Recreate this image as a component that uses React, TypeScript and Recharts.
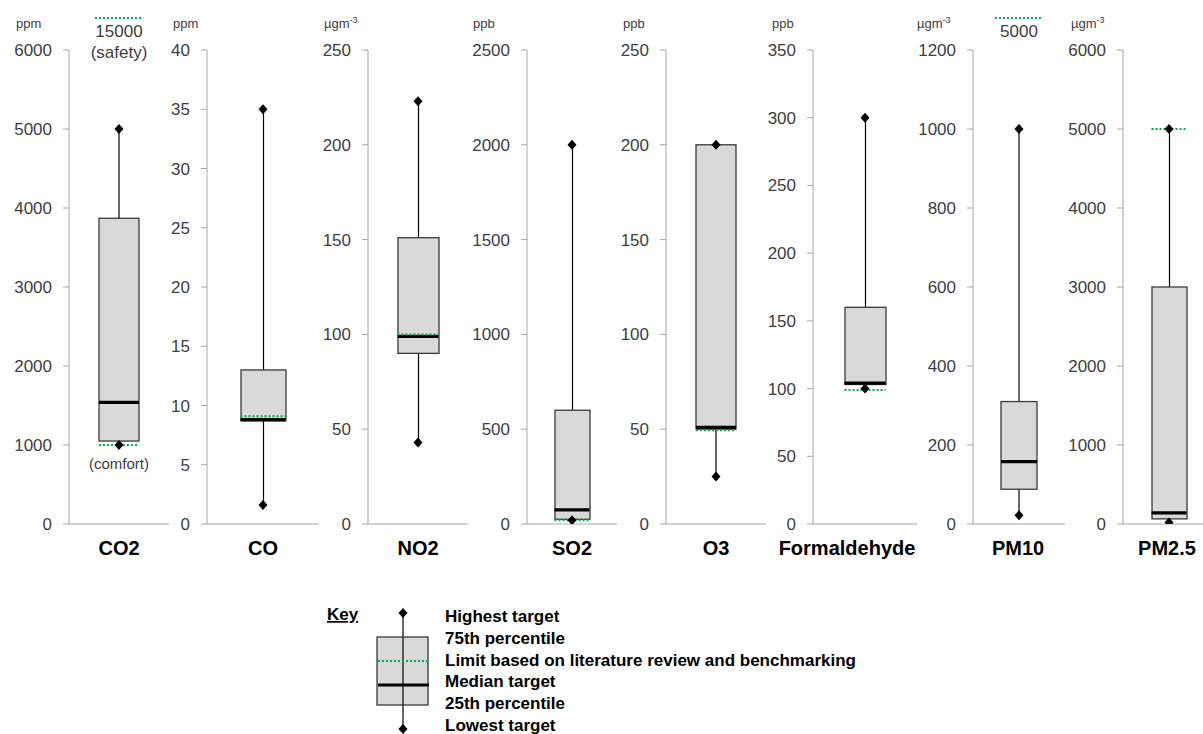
import { ComposedChart, Bar, Scatter, XAxis, YAxis } from 'recharts';

// target ranges per pollutant
const pollutants = ['CO2', 'CO', 'NO2', 'SO2', 'O3', 'Formaldehyde', 'PM10', 'PM2.5'];
const units = ['ppm', 'ppm', 'µgm-3', 'ppb', 'ppb', 'ppb', 'µgm-3', 'µgm-3'];
const highestTarget = [5000, 35, 223, 2000, 200, 300, 1000, 5000];
const upperQuartile = [3870, 13, 151, 600, 200, 160, 310, 3000];
const medianTarget = [1540, 8.8, 99, 75, 51, 104, 158, 140];
const lowerQuartile = [1050, 8.7, 90, 25, 50, 103, 88, 65];
const lowestTarget = [1000, 1.6, 43, 20, 25, 100, 22, 20];
const literatureLimit = [1000, 9.1, 100, 20, 49.5, 99, null, 5000];
const limitNotes = ['(comfort)', '', '', '', '', '', '', ''];
const offScaleLimits = [['15000', '(safety)'], [], [], [], [], [], ['5000'], []];
const yTicks = [
  [0, 1000, 2000, 3000, 4000, 5000, 6000],
  [0, 5, 10, 15, 20, 25, 30, 35, 40],
  [0, 50, 100, 150, 200, 250],
  [0, 500, 1000, 1500, 2000, 2500],
  [0, 50, 100, 150, 200, 250],
  [0, 50, 100, 150, 200, 250, 300, 350],
  [0, 200, 400, 600, 800, 1000, 1200],
  [0, 1000, 2000, 3000, 4000, 5000, 6000],
];
const keyLabels = [
  'Highest target',
  '75th percentile',
  'Limit based on literature review and benchmarking',
  'Median target',
  '25th percentile',
  'Lowest target',
];

// layout only
const panelLayout = [
  { axisX: 69, plotW: 100, boxW: 40, unitX: 16, labelDx: 0 },
  { axisX: 207, plotW: 112, boxW: 45, unitX: 173, labelDx: 0 },
  { axisX: 368, plotW: 100, boxW: 41, unitX: 324, labelDx: 0 },
  { axisX: 527, plotW: 90, boxW: 35, unitX: 473, labelDx: 0 },
  { axisX: 666, plotW: 100, boxW: 40, unitX: 623, labelDx: 0 },
  { axisX: 813, plotW: 104, boxW: 41, unitX: 772, labelDx: -18 },
  { axisX: 973, plotW: 92, boxW: 36, unitX: 917, labelDx: -1 },
  { axisX: 1123, plotW: 92, boxW: 35, unitX: 1071, labelDx: -2 },
];

const FONT = '"Liberation Sans", Arial, sans-serif';
const AXIS_GREY = '#a6a6a6';
const TEXT_GREY = '#404040';
const LIMIT_GREEN = '#00b050';
const BOX_FILL = '#d9d9d9';
const BOX_STROKE = '#3a3a3a';
const Y_AXIS_W = 64;
const CHART_H = 580;
const PLOT_TOP = 50;
const PLOT_BOTTOM = 524;
const X_AXIS_H = 30;

const diamondPath = (cx: number, cy: number) =>
  `M${cx},${cy - 5}L${cx + 4.5},${cy}L${cx},${cy + 5}L${cx - 4.5},${cy}Z`;

const Diamond = (props: any) => {
  const { cx, cy } = props;
  if (cx == null || cy == null || Number.isNaN(cy)) return <g />;
  return <path d={diamondPath(cx, cy)} fill="#000" />;
};

const Whisker = (props: any) => {
  const { x, y, width, height } = props;
  const mid = x + width / 2;
  return <line x1={mid} y1={y} x2={mid} y2={y + height} stroke="#000" strokeWidth={1.2} />;
};

const BoxShape = (props: any) => {
  const { x, y, width, height } = props;
  return <rect x={x} y={y} width={width} height={height} fill={BOX_FILL} stroke={BOX_STROKE} strokeWidth={1.3} />;
};

function BoxPanel({ index }: { index: number }) {
  const layout = panelLayout[index];
  const half = layout.boxW / 2;
  const data = [
    {
      name: pollutants[index],
      whisker: [lowestTarget[index], highestTarget[index]],
      box: [lowerQuartile[index], upperQuartile[index]],
      median: medianTarget[index],
      high: highestTarget[index],
      low: lowestTarget[index],
      limit: literatureLimit[index],
      note: limitNotes[index],
    },
  ];
  const ticks = yTicks[index];

  const MedianShape = (props: any) => {
    const { cx, cy } = props;
    return <line x1={cx - half} y1={cy} x2={cx + half} y2={cy} stroke="#000" strokeWidth={3.2} />;
  };

  const LimitShape = (props: any) => {
    const { cx, cy, payload } = props;
    if (cy == null || Number.isNaN(cy)) return <g />;
    return (
      <g>
        <line
          x1={cx - half}
          y1={cy}
          x2={cx + half}
          y2={cy}
          stroke={LIMIT_GREEN}
          strokeWidth={2}
          strokeDasharray="2 2"
        />
        {payload?.note ? (
          <text x={cx} y={cy + 24} textAnchor="middle" fontSize={15} fill={TEXT_GREY} fontFamily={FONT}>
            {payload.note}
          </text>
        ) : null}
      </g>
    );
  };

  const CategoryTick = (props: any) => {
    const { x, y, payload } = props;
    return (
      <text
        x={x + layout.labelDx}
        y={y}
        dy="0.72em"
        textAnchor="middle"
        fontSize={20}
        fontWeight="bold"
        fill="#000"
        fontFamily={FONT}
      >
        {payload.value}
      </text>
    );
  };

  return (
    <div style={{ position: 'absolute', left: layout.axisX - Y_AXIS_W, top: 0 }}>
      <ComposedChart
        width={Y_AXIS_W + layout.plotW}
        height={CHART_H}
        data={data}
        margin={{ top: PLOT_TOP, right: 0, bottom: CHART_H - PLOT_BOTTOM - X_AXIS_H, left: 0 }}
      >
        <XAxis
          xAxisId="main"
          dataKey="name"
          height={X_AXIS_H}
          axisLine={{ stroke: AXIS_GREY }}
          tickLine={false}
          tickSize={0}
          tickMargin={17}
          tick={<CategoryTick />}
          interval={0}
        />
        <XAxis xAxisId="range" dataKey="name" hide />
        <YAxis
          width={Y_AXIS_W}
          domain={[0, ticks[ticks.length - 1]]}
          ticks={ticks}
          interval={0}
          axisLine={{ stroke: AXIS_GREY }}
          tickLine={{ stroke: AXIS_GREY }}
          tickSize={6}
          tickMargin={11}
          tick={{ fontSize: 17, fill: TEXT_GREY, fontFamily: FONT }}
          allowDataOverflow
        />
        <Bar
          xAxisId="range"
          dataKey="whisker"
          barSize={layout.boxW}
          shape={<Whisker />}
          isAnimationActive={false}
        />
        <Bar
          xAxisId="main"
          dataKey="box"
          barSize={layout.boxW}
          shape={<BoxShape />}
          isAnimationActive={false}
        />
        <Scatter xAxisId="main" dataKey="median" shape={<MedianShape />} isAnimationActive={false} />
        {literatureLimit[index] != null && (
          <Scatter xAxisId="main" dataKey="limit" shape={<LimitShape />} isAnimationActive={false} />
        )}
        <Scatter xAxisId="main" dataKey="high" shape={<Diamond />} isAnimationActive={false} />
        <Scatter xAxisId="main" dataKey="low" shape={<Diamond />} isAnimationActive={false} />
      </ComposedChart>
    </div>
  );
}

function Overlay() {
  return (
    <svg
      width={1203}
      height={734}
      style={{ position: 'absolute', left: 0, top: 0, pointerEvents: 'none' }}
      fontFamily={FONT}
    >
      {/* unit captions above each axis */}
      {units.map((u, i) => {
        const [base, power] = u.split('-');
        return (
          <text key={`unit-${i}`} x={panelLayout[i].unitX} y={28} fontSize={13} fill={TEXT_GREY}>
            {base}
            {power ? (
              <tspan dy={-5} fontSize={9}>
                -{power}
              </tspan>
            ) : null}
          </text>
        );
      })}

      {/* limits that sit above the axis range */}
      {offScaleLimits.map((lines, i) => {
        if (!lines.length) return null;
        const cx = panelLayout[i].axisX + panelLayout[i].plotW / 2;
        return (
          <g key={`off-${i}`}>
            <line
              x1={cx - 24}
              y1={18}
              x2={cx + 24}
              y2={18}
              stroke={LIMIT_GREEN}
              strokeWidth={2}
              strokeDasharray="2 2"
            />
            {lines.map((t, j) => (
              <text key={j} x={cx} y={37 + j * 21} textAnchor="middle" fontSize={17} fill={TEXT_GREY}>
                {t}
              </text>
            ))}
          </g>
        );
      })}

      {/* key */}
      <text x={327} y={620} fontSize={17} fontWeight="bold" fill="#000" textDecoration="underline">
        Key
      </text>
      <line x1={403} y1={613} x2={403} y2={731} stroke="#000" strokeWidth={1.2} />
      <rect x={377} y={637} width={51} height={68} fill={BOX_FILL} stroke={BOX_STROKE} strokeWidth={1.3} />
      <line x1={403} y1={637} x2={403} y2={705} stroke="#000" strokeWidth={1.2} />
      <line x1={378} y1={661} x2={428} y2={661} stroke={LIMIT_GREEN} strokeWidth={2} strokeDasharray="2 2" />
      <line x1={378} y1={685} x2={429} y2={685} stroke="#000" strokeWidth={3.2} />
      <path d={diamondPath(403, 613)} fill="#000" />
      <path d={diamondPath(403, 729)} fill="#000" />
      {keyLabels.map((t, i) => (
        <text key={t} x={445} y={622 + i * 21.8} fontSize={17} fontWeight="bold" fill="#000">
          {t}
        </text>
      ))}
    </svg>
  );
}

export default function App() {
  return (
    <div
      style={{
        position: 'absolute',
        left: 0,
        top: 0,
        width: 1203,
        height: 734,
        overflow: 'hidden',
        background: '#fff',
        fontFamily: FONT,
      }}
    >
      {pollutants.map((p, i) => (
        <BoxPanel key={p} index={i} />
      ))}
      <Overlay />
    </div>
  );
}
